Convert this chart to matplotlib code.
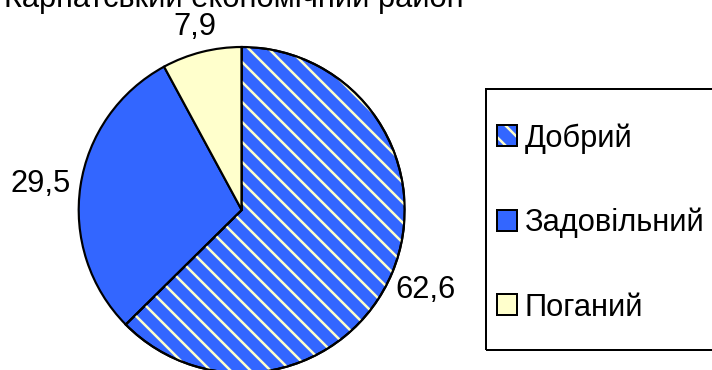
import matplotlib
matplotlib.use("Agg")
import matplotlib.pyplot as plt
from matplotlib.patches import Wedge, Patch, Rectangle
from matplotlib.legend_handler import HandlerTuple
import numpy as np

title = "Карпатський економічний район"
categories = ["Добрий", "Задовільний", "Поганий"]
values = [62.6, 29.5, 7.9]
value_labels = ["62,6", "29,5", "7,9"]

BLUE = "#3366FF"
YELLOW = "#FFFFCC"
face_colors = [BLUE, BLUE, YELLOW]
label_dist = [1.22, 1.25, 1.18]

DPI = 120
W, H = 712, 370
FS = 18.5
plt.rcParams["font.family"] = ["Liberation Sans", "DejaVu Sans"]
plt.rcParams["hatch.linewidth"] = 1.5

fig = plt.figure(figsize=(W / DPI, H / DPI), dpi=DPI)
fig.patch.set_facecolor("white")

cx, cy, r = 241.7, 210.0, 163.0
ax = fig.add_axes([(cx - r) / W, (H - cy - r) / H, 2 * r / W, 2 * r / H])

wedges, _ = ax.pie(values, colors=face_colors, startangle=90, counterclock=False,
                   radius=1.0, wedgeprops=dict(edgecolor="black", linewidth=1.3))
ax.set_xlim(-1, 1)
ax.set_ylim(-1, 1)
ax.set_aspect("equal")
ax.axis("off")

# hatch overlay on the first slice (yellow diagonal stripes)
w0 = wedges[0]
hatch_w = Wedge(w0.center, w0.r, w0.theta1, w0.theta2, facecolor="none",
                edgecolor=YELLOW, hatch="\\\\", linewidth=0, zorder=w0.get_zorder() + 0.1)
ax.add_patch(hatch_w)
outline = Wedge(w0.center, w0.r, w0.theta1, w0.theta2, facecolor="none",
                edgecolor="black", linewidth=1.3, zorder=w0.get_zorder() + 0.2)
ax.add_patch(outline)

for w, lab, d in zip(wedges, value_labels, label_dist):
    ang = np.deg2rad((w.theta1 + w.theta2) / 2)
    ax.text(d * np.cos(ang), d * np.sin(ang), lab, ha="center", va="center_baseline",
            fontsize=FS, color="black", clip_on=False)

fig.text(464 / W, (H - 7) / H, title, ha="right", va="baseline", fontsize=FS)

# legend
h_good = (Patch(facecolor=BLUE, edgecolor="none"),
          Patch(facecolor="none", edgecolor=YELLOW, hatch="\\\\", linewidth=0),
          Patch(facecolor="none", edgecolor="black", linewidth=1.2))
h_mid = Patch(facecolor=BLUE, edgecolor="black", linewidth=1.2)
h_bad = Patch(facecolor=YELLOW, edgecolor="black", linewidth=1.2)
leg = fig.legend([h_good, h_mid, h_bad], categories,
                 handler_map={tuple: HandlerTuple(ndivide=1, pad=0)},
                 loc="upper left", bbox_to_anchor=(497 / W, (H - 123) / H),
                 frameon=False, fontsize=FS, borderpad=0, borderaxespad=0,
                 handlelength=0.65, handleheight=0.65, handletextpad=0.25,
                 labelspacing=1.76)
fig.add_artist(Rectangle((486 / W, (H - 350) / H), 300 / W, (350 - 89) / H,
                         transform=fig.transFigure, fill=False,
                         edgecolor="black", linewidth=1.2))

fig.savefig("out.png", dpi=DPI, facecolor="white")
